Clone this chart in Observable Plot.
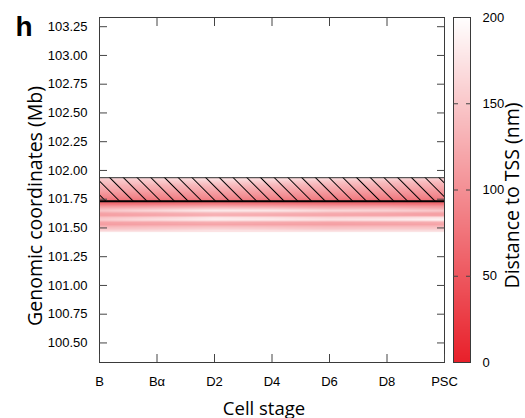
<!DOCTYPE html>
<html><head><meta charset="utf-8">
<script src="https://cdn.jsdelivr.net/npm/d3@7"></script>
<script src="https://cdn.jsdelivr.net/npm/@observablehq/plot@0.6"></script>
<style>
body{margin:0;background:#fff;}
#wrap{position:relative;width:525px;height:418px;overflow:hidden;}
#wrap svg{position:absolute;top:0;}
</style></head><body><div id="wrap"></div>
<script>
// ---- data ----
const stages = ["B", "Bα", "D2", "D4", "D6", "D8", "PSC"];
const yTicks = [100.50, 100.75, 101.00, 101.25, 101.50, 101.75, 102.00, 102.25, 102.50, 102.75, 103.00, 103.25];
const cbTicks = [0, 50, 100, 150, 200];
const cbInnerTicks = [50, 100, 150];
// genomic bin centers (Mb), top to bottom
const binCoords = [101.93, 101.91, 101.89, 101.87, 101.85, 101.83, 101.81, 101.79, 101.77, 101.75, 101.73, 101.71,
                   101.69, 101.67, 101.65, 101.63, 101.61, 101.59, 101.57, 101.55, 101.53, 101.51, 101.49, 101.47];
const binExtent = [101.464, 101.937];
// distance to TSS (nm) per stage, same order as binCoords
const distB   = [160,145,140,130,125,118,110,100,92,80,62,70,105,130,150,120,112,145,155,118,112,135,150,170];
const distBa  = [168,152,145,132,126,118,110,100,92,82,64,74,112,140,168,128,118,160,172,122,116,140,155,175];
const distD2  = [178,162,150,140,130,124,114,106,98,88,68,80,118,150,185,138,126,178,185,128,118,145,162,182];
const distD4  = [175,160,148,136,128,120,112,104,95,85,66,78,115,146,182,134,122,172,182,124,116,142,158,180];
const distD6  = [170,152,142,132,124,117,109,100,92,82,63,74,110,135,168,128,118,162,175,120,114,138,152,176];
const distD8  = [166,148,138,130,122,115,107,98,90,80,62,72,110,138,162,124,116,166,182,124,116,140,155,176];
const distPSC = [160,145,135,128,120,112,105,98,90,80,60,70,105,125,152,118,112,176,192,128,118,140,155,176];
// hatched region (Mb)
const hatchRegion = [101.733, 101.937];

const yTitle = "Genomic coordinates (Mb)";
const xTitle = "Cell stage";
const cbTitle = "Distance to TSS (nm)";
const panelLetter = "h";

// ---- build table ----
const series = [distB, distBa, distD2, distD4, distD6, distD8, distPSC];
const cells = [];
series.forEach((arr, i) => arr.forEach((v, j) => cells.push({i, coord: binCoords[j], value: v})));

const colorSpec = {type: "linear", domain: [0, 200], range: ["#e8202a", "#ffffff"], interpolate: "rgb"};
const tickFont = "Liberation Sans, Arial, sans-serif";
const titleFont = "Open Sans, sans-serif";
const stageIdx = d3.range(stages.length);

const main = Plot.plot({
  width: 525, height: 418,
  marginLeft: 99, marginRight: 81, marginTop: 17, marginBottom: 56,
  style: {fontFamily: tickFont, fontSize: "13px", color: "#000", background: "transparent"},
  x: {type: "linear", domain: [0, 6]},
  y: {type: "linear", domain: [100.33, 103.33]},
  color: colorSpec,
  marks: [
    Plot.raster(cells, {x: "i", y: "coord", fill: "value", x1: 0, x2: 6, y1: binExtent[0], y2: binExtent[1], interpolate: "barycentric"}),
    Plot.rect([hatchRegion], {y1: d => d[0], y2: d => d[1], fill: "url(#hatch)"}),
    Plot.ruleY([hatchRegion[1]], {stroke: "#333", strokeWidth: 1}),
    Plot.ruleY([hatchRegion[0]], {stroke: "#000", strokeWidth: 2}),
    Plot.frame({stroke: "#3a3a3a"}),
    Plot.axisY(yTicks, {anchor: "left", tickSize: 8, dx: 8, fill: "none", stroke: "#444"}),
    Plot.axisY(yTicks, {anchor: "right", tickSize: 8, dx: -8, fill: "none", stroke: "#444"}),
    Plot.axisX(stageIdx, {anchor: "bottom", tickSize: 8, dy: -8, fill: "none", stroke: "#444"}),
    Plot.axisX(stageIdx, {anchor: "top", tickSize: 8, dy: 8, fill: "none", stroke: "#444"}),
    Plot.axisY(yTicks, {anchor: "left", tickSize: 0, tickPadding: 12, tickFormat: d3.format(".2f"), label: null, fontSize: 13}),
    Plot.axisX(stageIdx, {anchor: "bottom", tickSize: 0, tickPadding: 14.5, tickFormat: i => stages[i], label: null, fontSize: 13}),
    Plot.text([panelLetter], {frameAnchor: "top-left", dx: -84, dy: 18, textAnchor: "start", lineAnchor: "bottom", fontSize: 28, fontWeight: "bold", fontFamily: "Liberation Sans, Arial, sans-serif"}),
    Plot.text([yTitle], {frameAnchor: "left", dx: -64, dy: 16, rotate: -90, textAnchor: "middle", lineAnchor: "middle", fontSize: 19.5, fontFamily: titleFont}),
    Plot.text([xTitle], {frameAnchor: "bottom", dx: -8, dy: 52, textAnchor: "middle", lineAnchor: "bottom", fontSize: 18.5, fontFamily: titleFont})
  ]
});

// hatch pattern definition
const defs = d3.select(main).insert("defs", ":first-child");
const pat = defs.append("pattern").attr("id", "hatch").attr("patternUnits", "userSpaceOnUse")
  .attr("width", 9.7).attr("height", 10).attr("patternTransform", "rotate(-45)");
pat.append("line").attr("x1", 0.5).attr("y1", 0).attr("x2", 0.5).attr("y2", 10).attr("stroke", "#000").attr("stroke-width", 1);

const cb = Plot.plot({
  width: 72, height: 418,
  marginLeft: 0, marginRight: 55, marginTop: 17, marginBottom: 56,
  style: {fontFamily: tickFont, fontSize: "13px", color: "#000", background: "transparent"},
  x: {domain: [0, 1], axis: null},
  y: {type: "linear", domain: [0, 200]},
  color: colorSpec,
  marks: [
    Plot.raster({x1: 0, x2: 1, y1: 0, y2: 200, fill: (x, y) => y}),
    Plot.frame({stroke: "#3a3a3a"}),
    Plot.axisY(cbInnerTicks, {anchor: "left", tickSize: 5, dx: 5, fill: "none", stroke: "#444"}),
    Plot.axisY(cbInnerTicks, {anchor: "right", tickSize: 5, dx: -5, fill: "none", stroke: "#444"}),
    Plot.axisY(cbTicks, {anchor: "right", tickSize: 0, tickPadding: 12, label: null, fontSize: 13}),
    Plot.text([cbTitle], {frameAnchor: "right", dx: 42.5, dy: 5.5, rotate: -90, textAnchor: "middle", lineAnchor: "middle", fontSize: 19.5, fontFamily: titleFont})
  ]
});

const wrap = document.getElementById("wrap");
main.style.left = "0px";
cb.style.left = "453px";
wrap.appendChild(main);
wrap.appendChild(cb);
</script></body></html>
